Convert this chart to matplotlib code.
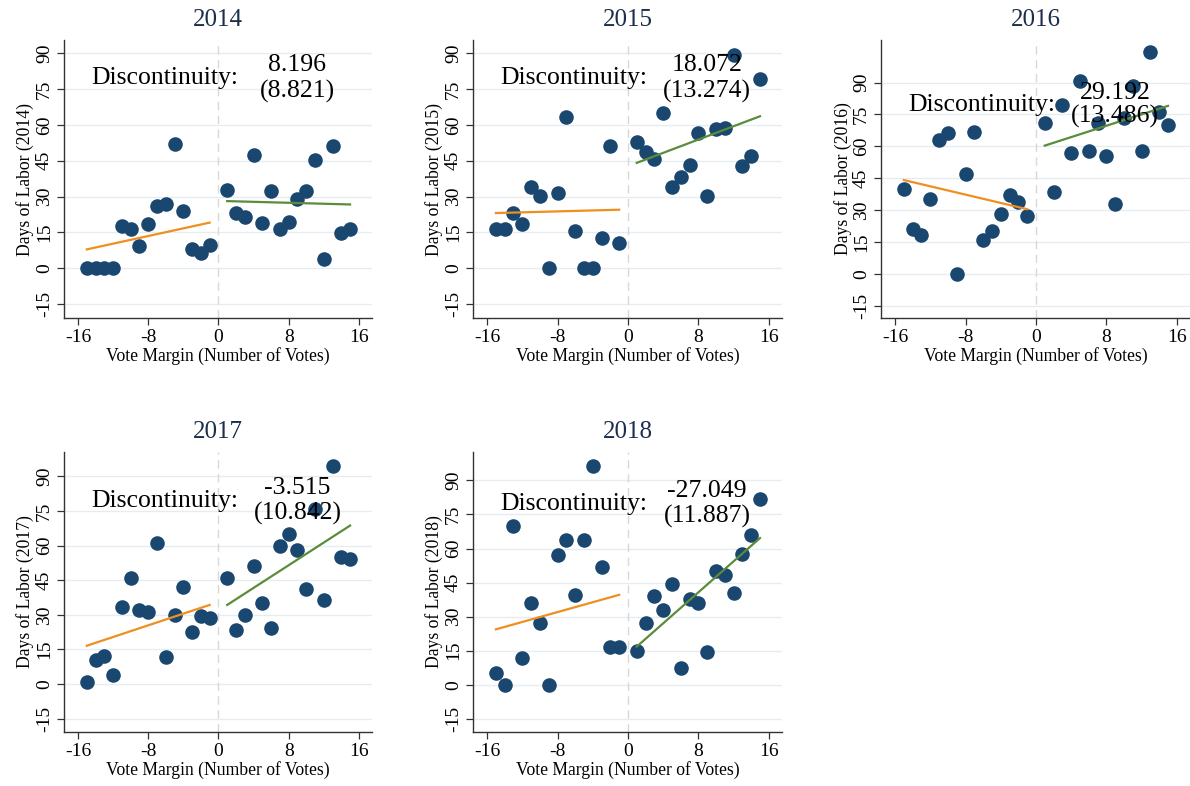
import matplotlib
matplotlib.use("Agg")
from matplotlib import pyplot as plt

plt.rcParams["font.family"] = ["Liberation Serif", "DejaVu Serif"]
plt.rcParams["axes.unicode_minus"] = False

years = ["2014", "2015", "2016", "2017", "2018"]
margins_left = list(range(-15, 0))
margins_right = list(range(1, 16))

labor_left = {
    "2014": [0, 0, 0, 0, 17.7, 16.3, 9.3, 18.4, 26, 27, 52, 23.9, 7.9, 6.3, 9.7],
    "2015": [16.6, 16.3, 23.2, 18.4, 34.1, 30.2, 0, 31.6, 63.1, 15.6, 0, 0, 12.8, 51, 10.4],
    "2016": [40.1, 21.2, 18.1, 35.4, 62.9, 66.1, 0, 46.9, 66.6, 15.7, 20, 28.3, 37, 33.8, 27.1],
    "2017": [0.7, 10.4, 12, 4.1, 33.3, 46, 32.3, 31.1, 61.1, 11.9, 30, 42, 22.4, 29.7, 28.7],
    "2018": [5, 0, 70.1, 11.8, 36, 27.1, 0, 57.2, 63.8, 39.7, 63.8, 96.2, 51.8, 16.8, 16.5],
}
labor_right = {
    "2014": [32.7, 23, 21.6, 47.3, 18.8, 32.4, 16.3, 19.5, 28.8, 32.4, 45.5, 4, 51.3, 14.9, 16.4],
    "2015": [52.7, 48.5, 45.9, 65, 33.9, 38.1, 43.4, 56.6, 30.2, 58.3, 58.7, 89.3, 42.7, 47.1, 79.3],
    "2016": [71.1, 38.5, 79.5, 56.6, 90.8, 57.9, 71.1, 55.4, 33, 73.2, 88.4, 57.9, 104.2, 76.3, 70],
    "2017": [45.9, 23.4, 30, 51.1, 35.2, 24.2, 59.8, 65.1, 57.9, 41, 76, 36.5, 94.5, 55, 54],
    "2018": [14.7, 27.1, 39, 32.9, 44.4, 7.6, 37.8, 36, 14.3, 50.3, 48.4, 40.4, 57.4, 66, 81.9],
}

# fitted line end points (value at -15 and -1, at 1 and 15)
fit_left = {
    "2014": [7.9, 19.1],
    "2015": [23.1, 24.5],
    "2016": [44.1, 30.4],
    "2017": [16.6, 34.3],
    "2018": [24.4, 39.6],
}
fit_right = {
    "2014": [28.1, 26.7],
    "2015": [44.1, 63.6],
    "2016": [60.3, 79.0],
    "2017": [34.3, 68.7],
    "2018": [16.8, 64.6],
}

estimates = ["8.196", "18.072", "29.192", "-3.515", "-27.049"]
std_errors = ["(8.821)", "(13.274)", "(13.486)", "(10.842)", "(11.887)"]
y_tops = [95.5, 95.5, 110, 100.6, 102.5]

x_ticks = [-16, -8, 0, 8, 16]
y_ticks = [-15, 0, 15, 30, 45, 60, 75, 90]

navy = "#1a476f"
orange = "#ef8f1f"
green = "#5b8c3a"
title_color = "#1c2e4c"

W, H = 1190, 786
fig = plt.figure(figsize=(W / 100, H / 100), dpi=100)

# axes boxes in pixels: left, top, right, bottom
boxes = [
    (64, 40, 372, 318),
    (473, 40, 782, 318),
    (881, 40, 1190, 318),
    (64, 452, 372, 732),
    (473, 452, 782, 732),
]

for i, year in enumerate(years):
    l, t, r, b = boxes[i]
    ax = fig.add_axes([l / W, 1 - b / H, (r - l) / W, (b - t) / H])
    ax.set_xlim(-17.6, 17.5)
    ax.set_ylim(-20.8, y_tops[i])
    ax.set_xticks(x_ticks)
    ax.set_yticks(y_ticks)
    ax.set_yticklabels([str(v) for v in y_ticks], rotation=90, va="center")
    ax.tick_params(labelsize=14, length=5, color="#333333", width=0.9, pad=3)
    for side in ["top", "right"]:
        ax.spines[side].set_visible(False)
    for side in ["left", "bottom"]:
        ax.spines[side].set_color("#333333")
        ax.spines[side].set_linewidth(1.0)
    ax.grid(axis="y", color="#e6edf1", linewidth=1.0)
    ax.set_axisbelow(True)
    ax.axvline(0, color="#d8d8d8", linewidth=1.0, linestyle=(0, (6, 4)), zorder=1)

    ax.scatter(margins_left, labor_left[year], s=110, color=navy, linewidths=0, zorder=3)
    ax.scatter(margins_right, labor_right[year], s=110, color=navy, linewidths=0, zorder=3)
    ax.plot([margins_left[0], margins_left[-1]], fit_left[year], color=orange, linewidth=1.6, zorder=4)
    ax.plot([margins_right[0], margins_right[-1]], fit_right[year], color=green, linewidth=1.6, zorder=4)

    ax.text(-6.1, 79.5, "Discontinuity:", fontsize=18.5, ha="center", va="center", zorder=5)
    ax.text(9.0, 85.2, estimates[i], fontsize=18.5, ha="center", va="center", zorder=5)
    ax.text(9.0, 74.0, std_errors[i], fontsize=18.5, ha="center", va="center", zorder=5)

    ax.set_title(year, fontsize=18, color=title_color, pad=10)
    ax.set_xlabel("Vote Margin (Number of Votes)", fontsize=12.7, labelpad=1)
    ax.set_ylabel("Days of Labor (%s)" % year, fontsize=12.7, labelpad=1)

fig.savefig("out.png", dpi=100)
